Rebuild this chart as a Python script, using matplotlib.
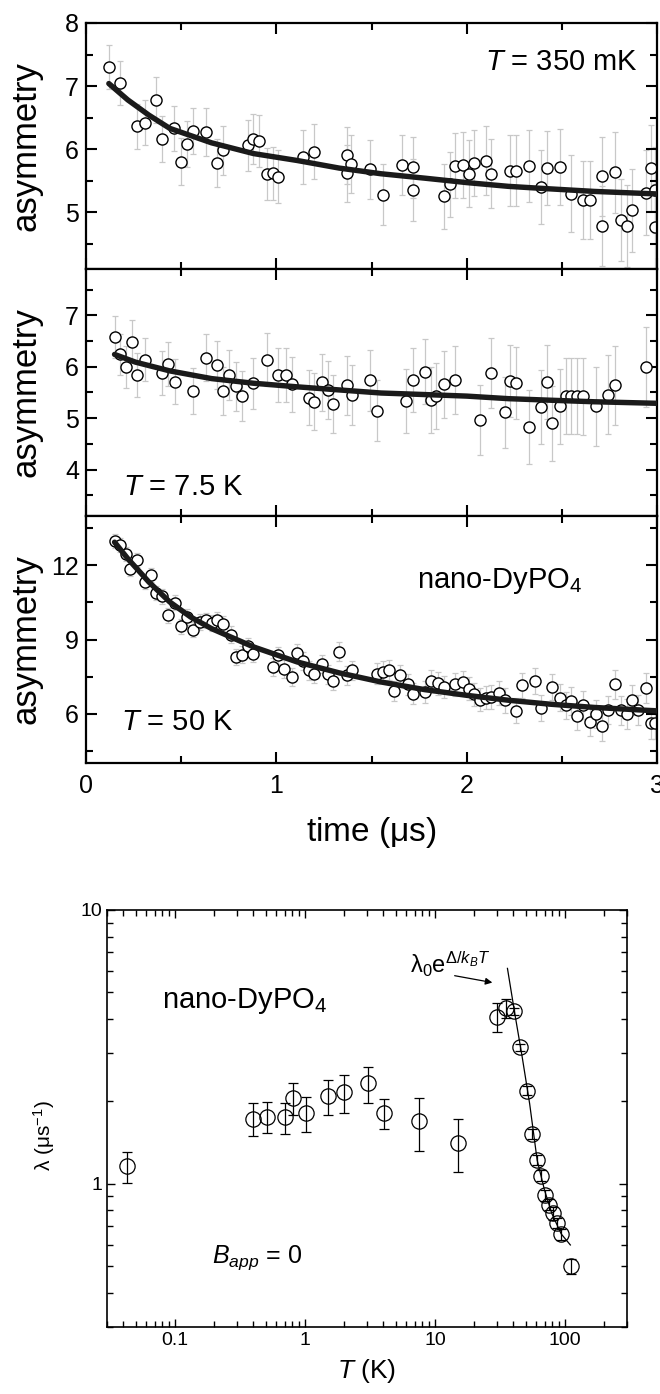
# muSR asymmetry curves and relaxation rate for nano-DyPO4
import matplotlib
matplotlib.use("Agg")
import matplotlib.pyplot as plt
from matplotlib.ticker import MultipleLocator, LogLocator, NullFormatter, FixedLocator, FixedFormatter

plt.rcParams['font.family'] = ['Liberation Sans', 'DejaVu Sans']
plt.rcParams['mathtext.fontset'] = 'custom'
plt.rcParams['mathtext.rm'] = 'Liberation Sans'
plt.rcParams['mathtext.it'] = 'Liberation Sans:italic'

# ---- panel 1: T = 350 mK ----
t1 = [0.12, 0.18, 0.27, 0.31, 0.37, 0.40, 0.46, 0.50, 0.53, 0.56, 0.63, 0.69, 0.72, 0.85, 0.88,
      0.91, 0.95, 0.98, 1.01, 1.14, 1.20, 1.37, 1.37, 1.39, 1.49, 1.56, 1.66, 1.72, 1.72, 1.88,
      1.91, 1.94, 1.98, 2.01, 2.04, 2.10, 2.13, 2.23, 2.26, 2.33, 2.39, 2.42, 2.49, 2.55, 2.61,
      2.65, 2.71, 2.71, 2.78, 2.81, 2.84, 2.87, 2.94, 2.97, 2.99, 2.99]
a1 = [7.30, 7.05, 6.36, 6.42, 6.78, 6.16, 6.33, 5.80, 6.08, 6.29, 6.27, 5.78, 5.98, 6.06, 6.16,
      6.13, 5.61, 5.62, 5.56, 5.88, 5.96, 5.62, 5.90, 5.76, 5.68, 5.28, 5.75, 5.71, 5.35, 5.25,
      5.44, 5.74, 5.75, 5.61, 5.78, 5.82, 5.61, 5.66, 5.66, 5.73, 5.40, 5.70, 5.72, 5.29, 5.20,
      5.20, 5.57, 4.78, 5.63, 4.87, 4.78, 5.03, 5.31, 5.70, 5.35, 4.77]
e1 = [0.35, 0.35, 0.35, 0.36, 0.36, 0.36, 0.36, 0.37, 0.37, 0.37, 0.38, 0.38, 0.39, 0.40, 0.40,
      0.41, 0.41, 0.42, 0.42, 0.43, 0.44, 0.45, 0.45, 0.46, 0.47, 0.48, 0.48, 0.49, 0.49, 0.51,
      0.51, 0.52, 0.52, 0.53, 0.53, 0.54, 0.55, 0.56, 0.56, 0.57, 0.58, 0.59, 0.60, 0.61, 0.62,
      0.62, 0.63, 0.63, 0.64, 0.65, 0.65, 0.66, 0.67, 0.68, 0.68, 0.68]
fit1_t = [0.12, 0.22, 0.33, 0.44, 0.66, 0.88, 1.11, 1.33, 1.55, 1.78, 2.0, 2.22, 2.44, 2.67, 3.0]
fit1_a = [7.04, 6.78, 6.54, 6.33, 6.10, 5.93, 5.82, 5.70, 5.61, 5.54, 5.47, 5.41, 5.37, 5.33, 5.29]

# ---- panel 2: T = 7.5 K ----
t2 = [0.15, 0.18, 0.21, 0.24, 0.27, 0.31, 0.40, 0.43, 0.47, 0.56, 0.63, 0.69, 0.72, 0.75, 0.79,
      0.82, 0.88, 0.95, 1.01, 1.05, 1.08, 1.17, 1.20, 1.24, 1.27, 1.30, 1.37, 1.40, 1.49, 1.53,
      1.68, 1.72, 1.78, 1.81, 1.84, 1.88, 1.94, 2.07, 2.13, 2.20, 2.23, 2.26, 2.33, 2.39, 2.42,
      2.45, 2.49, 2.52, 2.55, 2.58, 2.61, 2.68, 2.74, 2.78, 2.94]
a2 = [6.58, 6.24, 6.00, 6.49, 5.84, 6.14, 5.88, 6.06, 5.71, 5.53, 6.18, 6.03, 5.53, 5.84, 5.62,
      5.43, 5.68, 6.14, 5.84, 5.84, 5.66, 5.40, 5.32, 5.70, 5.55, 5.28, 5.64, 5.45, 5.74, 5.15,
      5.33, 5.75, 5.90, 5.35, 5.43, 5.66, 5.75, 4.97, 5.87, 5.12, 5.73, 5.69, 4.83, 5.22, 5.71,
      4.90, 5.23, 5.43, 5.43, 5.43, 5.43, 5.23, 5.46, 5.64, 6.00]
e2 = [0.40, 0.40, 0.41, 0.41, 0.42, 0.42, 0.43, 0.43, 0.44, 0.45, 0.46, 0.47, 0.47, 0.48, 0.48,
      0.49, 0.50, 0.51, 0.52, 0.52, 0.53, 0.54, 0.55, 0.55, 0.56, 0.56, 0.57, 0.58, 0.59, 0.60,
      0.62, 0.62, 0.63, 0.64, 0.64, 0.65, 0.66, 0.68, 0.68, 0.69, 0.70, 0.70, 0.71, 0.72, 0.72,
      0.73, 0.73, 0.74, 0.74, 0.74, 0.75, 0.76, 0.76, 0.77, 0.78]
fit2_t = [0.15, 0.26, 0.44, 0.66, 0.88, 1.11, 1.33, 1.55, 1.78, 2.0, 2.22, 2.44, 2.67, 3.0]
fit2_a = [6.24, 6.09, 5.92, 5.77, 5.68, 5.61, 5.55, 5.49, 5.46, 5.43, 5.38, 5.35, 5.32, 5.29]

# ---- panel 3: T = 50 K ----
t3 = [0.15, 0.18, 0.21, 0.23, 0.27, 0.31, 0.34, 0.37, 0.40, 0.43, 0.47, 0.50, 0.53, 0.56, 0.60,
      0.63, 0.66, 0.69, 0.72, 0.76, 0.79, 0.82, 0.85, 0.88, 0.98, 1.01, 1.04, 1.08, 1.11, 1.14,
      1.17, 1.20, 1.24, 1.27, 1.30, 1.33, 1.37, 1.40, 1.53, 1.56, 1.59, 1.62, 1.65, 1.69, 1.72,
      1.78, 1.81, 1.85, 1.88, 1.94, 1.98, 2.01, 2.04, 2.07, 2.10, 2.13, 2.17, 2.20, 2.26, 2.29,
      2.36, 2.39, 2.45, 2.49, 2.52, 2.55, 2.58, 2.61, 2.65, 2.68, 2.71, 2.74, 2.78, 2.81, 2.84,
      2.87, 2.90, 2.94, 2.97, 2.99]
a3 = [12.98, 12.81, 12.47, 11.87, 12.23, 11.33, 11.60, 10.88, 10.75, 9.98, 10.49, 9.53, 9.91, 9.40, 9.71,
      9.78, 9.68, 9.78, 9.64, 9.20, 8.29, 8.39, 8.73, 8.43, 7.89, 8.36, 7.81, 7.49, 8.47, 8.12,
      7.75, 7.59, 8.00, 7.59, 7.32, 8.50, 7.55, 7.75, 7.62, 7.70, 7.78, 6.92, 7.55, 7.18, 6.81,
      6.88, 7.31, 7.22, 7.08, 7.19, 7.28, 7.01, 6.78, 6.57, 6.65, 6.68, 6.84, 6.54, 6.11, 7.15,
      7.32, 6.23, 7.08, 6.65, 6.34, 6.51, 5.89, 6.34, 5.67, 5.98, 5.49, 6.14, 7.18, 6.14, 5.98,
      6.54, 6.16, 7.05, 5.60, 5.60]
e3 = [0.28, 0.28, 0.28, 0.28, 0.28, 0.29, 0.29, 0.29, 0.30, 0.30,
      0.30, 0.30, 0.31, 0.31, 0.31, 0.31, 0.32, 0.32, 0.32, 0.33,
      0.33, 0.33, 0.33, 0.34, 0.35, 0.35, 0.35, 0.36, 0.36, 0.36,
      0.37, 0.37, 0.37, 0.38, 0.38, 0.38, 0.39, 0.39, 0.41, 0.41,
      0.41, 0.42, 0.42, 0.43, 0.43, 0.44, 0.44, 0.45, 0.45, 0.46,
      0.46, 0.47, 0.47, 0.48, 0.48, 0.49, 0.49, 0.50, 0.51, 0.51,
      0.52, 0.53, 0.54, 0.54, 0.55, 0.55, 0.56, 0.56, 0.57, 0.57,
      0.58, 0.58, 0.59, 0.59, 0.60, 0.60, 0.61, 0.61, 0.62, 0.62]
fit3_t = [0.15, 0.22, 0.33, 0.44, 0.55, 0.66, 0.88, 1.11, 1.33, 1.55, 1.78, 2.0, 2.22, 2.44, 2.67, 3.0]
fit3_a = [12.94, 12.27, 11.33, 10.52, 9.91, 9.44, 8.70, 8.09, 7.65, 7.28, 6.97, 6.74, 6.54, 6.38, 6.25, 6.11]

# ---- relaxation rate vs temperature ----
temp_K = [0.043, 0.395, 0.508, 0.706, 0.811, 1.01, 1.51, 2.01, 3.04, 4.06, 7.54, 15.1, 30.0,
          34.9, 40.3, 45.4, 50.8, 55.7, 60.7, 65.6, 70.6, 75.9, 81.1, 86.5, 92.4, 111]
lam = [1.16, 1.73, 1.76, 1.75, 2.06, 1.81, 2.09, 2.16, 2.33, 1.81, 1.69, 1.41, 4.07,
       4.37, 4.27, 3.15, 2.19, 1.52, 1.22, 1.07, 0.909, 0.84, 0.78, 0.72, 0.656, 0.50]
lam_err = [0.15, 0.24, 0.23, 0.23, 0.27, 0.26, 0.31, 0.34, 0.35, 0.23, 0.37, 0.31, 0.50,
           0.35, 0.12, 0.10, 0.08, 0.06, 0.05, 0.05, 0.04, 0.04, 0.04, 0.03, 0.03, 0.03]
# activated fit curve
fit_T = [36.1, 41.1, 46.9, 53.5, 61.1, 69.7, 79.4, 93.6, 110]
fit_lam = [6.12, 4.19, 2.90, 1.96, 1.22, 0.946, 0.777, 0.656, 0.598]

W, H = 660, 1394
fig = plt.figure(figsize=(W / 100, H / 100), dpi=100)


def px_axes(left, top, right, bottom):
    return fig.add_axes([left / W, 1 - bottom / H, (right - left) / W, (bottom - top) / H])


def style_upper(ax, ylim, major, minor):
    ax.set_xlim(0, 3)
    ax.set_ylim(*ylim)
    ax.xaxis.set_major_locator(MultipleLocator(1))
    ax.xaxis.set_minor_locator(MultipleLocator(0.5))
    ax.yaxis.set_major_locator(MultipleLocator(major))
    ax.yaxis.set_minor_locator(MultipleLocator(minor))
    ax.tick_params(which='both', direction='in', top=True, right=True, width=1.5)
    ax.tick_params(which='major', length=8, labelsize=18, pad=5)
    ax.tick_params(which='minor', length=5)
    for s in ax.spines.values():
        s.set_linewidth(1.6)
    ax.set_ylabel('asymmetry', fontsize=25)
    ax.yaxis.set_label_coords(-0.077, 0.5)


def draw_panel(ax, t, a, e, ft, fa):
    ax.errorbar(t, a, yerr=e, fmt='none', ecolor='#c8c8c8', elinewidth=0.9, capsize=2.5,
                capthick=0.9, zorder=1)
    ax.plot(t, a, 'o', ms=8, mfc='white', mec='black', mew=1.0, zorder=2)
    ax.plot(ft, fa, '-', color='#1a1a1a', lw=3.9, solid_capstyle='round', zorder=3)


ax1 = px_axes(86, 23, 657, 269)
ax2 = px_axes(86, 269, 657, 516)
ax3 = px_axes(86, 516, 657, 763)

draw_panel(ax1, t1, a1, e1, fit1_t, fit1_a)
draw_panel(ax2, t2, a2, e2, fit2_t, fit2_a)
draw_panel(ax3, t3, a3, e3, fit3_t, fit3_a)

style_upper(ax1, (4.1, 8), 1, 0.5)
style_upper(ax2, (3.1, 7.9), 1, 0.5)
style_upper(ax3, (4, 14), 3, 1.5)
ax1.tick_params(labelbottom=False)
ax2.tick_params(labelbottom=False)
ax3.tick_params(axis='x', pad=8)
ax3.set_xlabel(r'time ($\mathrm{\mu}$s)', fontsize=24, labelpad=12)

ax1.text(0.967, 0.81, r'$T$ = 350 mK', transform=ax1.transAxes, ha='right', va='baseline', fontsize=21)
ax2.text(0.065, 0.085, r'$T$ = 7.5 K', transform=ax2.transAxes, ha='left', va='baseline', fontsize=21)
ax3.text(0.061, 0.133, r'$T$ = 50 K', transform=ax3.transAxes, ha='left', va='baseline', fontsize=21)
ax3.text(0.58, 0.71, r'nano-DyPO$_4$', transform=ax3.transAxes, ha='left', va='baseline', fontsize=21)

# ---- lower plot ----
ax4 = px_axes(107, 910, 627, 1327)
ax4.errorbar(temp_K, lam, yerr=lam_err, fmt='none', ecolor='black', elinewidth=0.9,
             capsize=3.5, capthick=0.9, zorder=1)
ax4.plot(temp_K, lam, 'o', ms=11, mfc='none', mec='black', mew=0.9, zorder=2)
ax4.plot(fit_T, fit_lam, '-', color='black', lw=0.9, zorder=3)
ax4.set_xscale('log')
ax4.set_yscale('log')
ax4.set_xlim(0.03, 300)
ax4.set_ylim(0.3, 10)
ax4.xaxis.set_major_locator(FixedLocator([0.1, 1, 10, 100]))
ax4.xaxis.set_major_formatter(FixedFormatter(['0.1', '1', '10', '100']))
ax4.xaxis.set_minor_locator(LogLocator(base=10, subs=range(2, 10)))
ax4.xaxis.set_minor_formatter(NullFormatter())
ax4.yaxis.set_major_locator(FixedLocator([1, 10]))
ax4.yaxis.set_major_formatter(FixedFormatter(['1', '10']))
ax4.yaxis.set_minor_locator(LogLocator(base=10, subs=range(2, 10)))
ax4.yaxis.set_minor_formatter(NullFormatter())
ax4.tick_params(which='both', direction='in', top=True, right=True, width=1.0, labelsize=14)
ax4.tick_params(which='major', length=6)
ax4.tick_params(which='minor', length=4)
for s in ax4.spines.values():
    s.set_linewidth(1.2)
ax4.set_xlabel(r'$T$ (K)', fontsize=19, labelpad=6)
ax4.set_ylabel(r'λ (μs$^{-1}$)', fontsize=15)
ax4.yaxis.set_label_coords(-0.096, 0.46)

ax4.text(0.106, 0.765, r'nano-DyPO$_4$', transform=ax4.transAxes, ha='left', va='baseline', fontsize=21)
ax4.text(0.202, 0.153, r'$B_{app}$ = 0', transform=ax4.transAxes, ha='left', va='baseline', fontsize=18)
ax4.annotate('', xy=(29, 5.41), xytext=(13.5, 5.78),
             arrowprops=dict(arrowstyle='-|>', color='black', lw=0.9, mutation_scale=10))
ax4.text(6.4, 5.87, r'$\mathrm{\lambda_0 e}^{\Delta/k_BT}$', ha='left', va='baseline', fontsize=17)

fig.savefig('out.png', dpi=100)
